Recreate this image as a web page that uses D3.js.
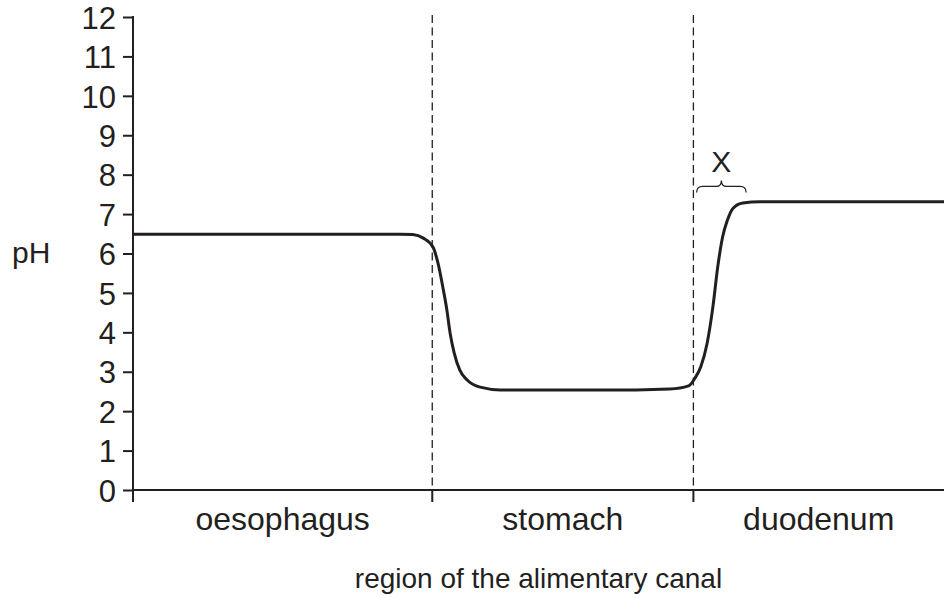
<!DOCTYPE html>
<html>
<head>
<meta charset="utf-8">
<script src="https://cdn.jsdelivr.net/npm/d3@7"></script>
<style>
  body { margin: 0; background: #fff; }
  svg { display: block; }
  text { font-family: "Liberation Sans", Arial, Helvetica, sans-serif; fill: #231f20; }
</style>
</head>
<body>
<script>
let width = 944, height = 598;
let ink = '#231f20';

// y ticks (pH)
let phTicks = d3.range(0, 13);

// regions of the canal, with their boundaries on a 0-100 position scale
let regions = ['oesophagus', 'stomach', 'duodenum'];
let regionEdges = [0, 36.9, 69.1, 100];

// pH along the canal (position 0-100, pH)
let position = [0, 32.9, 34.5, 35.8, 37.0, 37.6, 38.2, 38.7, 39.1, 39.6, 40.3, 41.2, 42.8, 45.3,
  62.0, 66.2, 68.5, 69.3, 70.0, 70.8, 71.5, 72.1, 72.7, 73.3, 74.0, 75.2, 77.3, 100];
let pH = [6.49, 6.49, 6.48, 6.39, 6.16, 5.76, 5.15, 4.57, 3.98, 3.48, 3.04, 2.79, 2.61, 2.54,
  2.54, 2.56, 2.64, 2.84, 3.12, 3.73, 4.64, 5.66, 6.42, 6.85, 7.15, 7.28, 7.31, 7.31];

// brace labelled X
let braceFrom = 69.5, braceTo = 75.6, braceLevel = 7.55;

let x = d3.scaleLinear().domain([0, 100]).range([133, 944]);
let y = d3.scaleLinear().domain([0, 12]).range([490, 17]);

let svg = d3.select('body').append('svg')
  .attr('width', width)
  .attr('height', height);

// dashed region boundaries
svg.selectAll('.divider')
  .data(regionEdges.slice(1, -1))
  .enter().append('line')
  .attr('class', 'divider')
  .attr('x1', d => x(d)).attr('x2', d => x(d))
  .attr('y1', y(12) - 2).attr('y2', y(0))
  .attr('stroke', ink)
  .attr('stroke-width', 1.3)
  .attr('stroke-dasharray', '8,4.5');

// boundary ticks below the x axis
svg.selectAll('.rtick')
  .data(regionEdges.slice(1, -1))
  .enter().append('line')
  .attr('x1', d => x(d)).attr('x2', d => x(d))
  .attr('y1', y(0)).attr('y2', y(0) + 12)
  .attr('stroke', ink)
  .attr('stroke-width', 2);

// y axis
let yAxis = svg.append('g')
  .attr('transform', 'translate(' + x(0) + ',0)')
  .call(d3.axisLeft(y).tickValues(phTicks).tickSize(10).tickSizeOuter(0).tickPadding(7));
yAxis.select('.domain').remove();
yAxis.selectAll('.tick line').attr('stroke', ink).attr('stroke-width', 2);
yAxis.selectAll('.tick text')
  .style('font-size', '31px')
  .attr('fill', ink)
  .attr('dy', '0.36em');

svg.append('line')
  .attr('x1', x(0)).attr('x2', x(0))
  .attr('y1', y(12) - 1).attr('y2', y(0) + 12)
  .attr('stroke', ink).attr('stroke-width', 2);

// x axis
svg.append('line')
  .attr('x1', x(0)).attr('x2', x(100))
  .attr('y1', y(0)).attr('y2', y(0))
  .attr('stroke', ink).attr('stroke-width', 2);

// region labels
svg.selectAll('.rlabel')
  .data(regions)
  .enter().append('text')
  .attr('x', (d, i) => (x(regionEdges[i]) + x(regionEdges[i + 1])) / 2)
  .attr('y', 530)
  .attr('text-anchor', 'middle')
  .style('font-size', '32px')
  .text(d => d);

// axis titles
svg.append('text')
  .attr('x', (x(0) + x(100)) / 2)
  .attr('y', 588)
  .attr('text-anchor', 'middle')
  .style('font-size', '28px')
  .text('region of the alimentary canal');

svg.append('text')
  .attr('x', 12)
  .attr('y', 263)
  .style('font-size', '30px')
  .text('pH');

// pH curve
let line = d3.line()
  .x((d, i) => x(position[i]))
  .y(d => y(d))
  .curve(d3.curveMonotoneX);

svg.append('path')
  .datum(pH)
  .attr('d', line)
  .attr('fill', 'none')
  .attr('stroke', ink)
  .attr('stroke-width', 3);

// brace and label X
let bx0 = x(braceFrom), bx1 = x(braceTo), bm = (bx0 + bx1) / 2;
let by = y(braceLevel), bh = by - 6;
let bp = d3.path();
bp.moveTo(bx0, by);
bp.quadraticCurveTo(bx0, bh, bx0 + 6, bh);
bp.lineTo(bm - 5, bh);
bp.quadraticCurveTo(bm, bh, bm, bh - 6);
bp.quadraticCurveTo(bm, bh, bm + 5, bh);
bp.lineTo(bx1 - 6, bh);
bp.quadraticCurveTo(bx1, bh, bx1, by);
svg.append('path')
  .attr('d', bp.toString())
  .attr('fill', 'none')
  .attr('stroke', ink)
  .attr('stroke-width', 1.3);

svg.append('text')
  .attr('x', bm)
  .attr('y', 172)
  .attr('text-anchor', 'middle')
  .style('font-size', '30px')
  .text('X');
</script>
</body>
</html>
